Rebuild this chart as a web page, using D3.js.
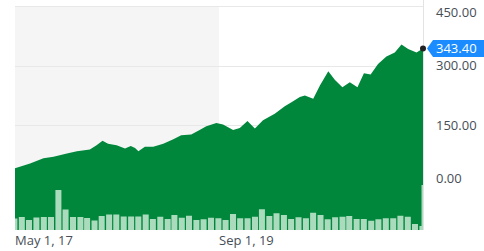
<!DOCTYPE html>
<html>
<head>
<meta charset="utf-8">
<script src="https://cdn.jsdelivr.net/npm/d3@7"></script>
<style>
  body { margin: 0; background: #fff; }
  svg { display: block; font-family: "Open Sans", sans-serif; }
</style>
</head>
<body>
<div id="chart"></div>
<script>
// price trace (date, close)
const priceDates = ["2017-05-01","2017-07-03","2017-08-28","2017-10-09","2017-12-04","2018-01-15",
  "2018-03-10","2018-04-07","2018-05-02","2018-05-25","2018-06-30","2018-08-04","2018-08-28",
  "2018-09-15","2018-09-29","2018-10-26","2018-11-30","2019-01-11","2019-02-22","2019-03-27",
  "2019-05-08","2019-06-12","2019-07-10","2019-08-21","2019-09-18","2019-10-30","2019-11-27",
  "2019-12-29","2020-01-29","2020-03-03","2020-04-21","2020-06-02","2020-06-30","2020-08-04",
  "2020-08-25","2020-09-29","2020-10-27","2020-12-01","2020-12-29","2021-01-29","2021-03-01",
  "2021-04-02","2021-04-29","2021-05-27","2021-06-27","2021-08-01","2021-09-05","2021-10-03",
  "2021-10-31","2021-12-05","2022-01-01"];
const priceValues = [42, 54, 67, 71, 79, 85, 89, 100, 111, 104, 100, 92, 98, 93, 85, 96, 96, 104,
  115, 125, 127, 138, 148, 156, 152, 138, 143, 161, 142, 163, 179, 198, 208, 221, 225, 217, 250,
  286, 264, 246, 258, 246, 281, 278, 304, 323, 333, 353, 342, 333, 343.4];

// monthly volume, May 2017 .. Jan 2022 (millions)
const volumeValues = [46, 52, 40, 50, 52, 52, 160, 82, 52, 52, 48, 38, 56, 62, 62, 54, 54, 54, 62,
  44, 53, 44, 60, 49, 57, 40, 43, 49, 47, 40, 64, 47, 47, 53, 83, 56, 67, 60, 44, 51, 47, 69, 60,
  43, 51, 53, 56, 44, 44, 37, 43, 47, 47, 57, 53, 24, 16];

const yTicks = [0, 150, 300, 450];
const xTickDates = ["2017-05-01", "2019-09-01"];
const xTickLabels = ["May 1, 17", "Sep 1, 19"];
const shadeRange = ["2017-05-01", "2019-09-01"];
const lastPrice = 343.40;

const W = 484, H = 251;
const plotLeft = 15, plotRight = 423, plotTop = 6, plotBottom = 230;
const parse = d3.timeParse("%Y-%m-%d");

const svg = d3.select("#chart").append("svg")
    .attr("width", W)
    .attr("height", H);

const x = d3.scaleTime()
    .domain([parse("2017-05-01"), parse("2022-01-01")])
    .range([plotLeft, plotRight]);

const y = d3.scaleLinear()
    .domain([0, 450])
    .range([185, plotTop]);

const yVol = d3.scaleLinear()
    .domain([0, 180])
    .range([plotBottom, 185]);

svg.append("defs").append("clipPath")
    .attr("id", "plot")
    .append("rect")
    .attr("x", plotLeft).attr("y", 0)
    .attr("width", plotRight - plotLeft).attr("height", plotBottom);

// shaded period
svg.append("rect")
    .attr("x", x(parse(shadeRange[0])))
    .attr("y", plotTop)
    .attr("width", x(parse(shadeRange[1])) - x(parse(shadeRange[0])))
    .attr("height", plotBottom - plotTop)
    .attr("fill", "#f5f5f5");

// gridlines
svg.append("g")
    .selectAll("line")
    .data(yTicks)
    .join("line")
    .attr("x1", plotLeft).attr("x2", plotRight)
    .attr("y1", d => Math.round(y(d)) + 0.5)
    .attr("y2", d => Math.round(y(d)) + 0.5)
    .attr("stroke", "#e8e8e8");

svg.append("line")
    .attr("x1", plotRight + 0.5).attr("x2", plotRight + 0.5)
    .attr("y1", 0).attr("y2", plotBottom)
    .attr("stroke", "#e3e3e3");

const price = priceDates.map((d, i) => ({ date: parse(d), value: priceValues[i] }));

const area = d3.area()
    .x(d => x(d.date))
    .y0(plotBottom)
    .y1(d => y(d.value));

const g = svg.append("g").attr("clip-path", "url(#plot)");

g.append("path")
    .datum(price)
    .attr("d", area)
    .attr("fill", "#00873c");

// volume bars
const months = d3.timeMonth.range(parse("2017-05-01"), parse("2022-02-01"));
g.selectAll(".vol")
    .data(volumeValues)
    .join("rect")
    .attr("class", "vol")
    .attr("x", (d, i) => x(months[i]) - 3.6)
    .attr("y", d => yVol(d))
    .attr("width", 6)
    .attr("height", d => plotBottom - yVol(d))
    .attr("fill", "#abdbbd");

// light edge under zero line
g.append("rect")
    .attr("x", plotRight - 1.5)
    .attr("y", y(0))
    .attr("width", 1.5)
    .attr("height", plotBottom - y(0))
    .attr("fill", "#abdbbd");

// y labels
svg.append("g")
    .selectAll("text")
    .data(yTicks)
    .join("text")
    .attr("x", 436)
    .attr("y", d => Math.max(12, Math.min(178, y(d))))
    .attr("dy", "0.35em")
    .attr("font-size", 13)
    .attr("fill", "#464e56")
    .text(d => d3.format(".2f")(d));

// x labels
svg.append("g")
    .selectAll("text")
    .data(xTickDates)
    .join("text")
    .attr("x", d => x(parse(d)))
    .attr("y", 245)
    .attr("font-size", 13)
    .attr("fill", "#464e56")
    .text((d, i) => xTickLabels[i]);

// last price marker
const yp = y(lastPrice);
svg.append("path")
    .attr("d", `M${plotRight + 4},${yp} L${plotRight + 10},${yp - 8.5} L${W},${yp - 8.5} L${W},${yp + 8.5} L${plotRight + 10},${yp + 8.5} Z`)
    .attr("fill", "#1a8cff");

svg.append("text")
    .attr("x", 436)
    .attr("y", yp)
    .attr("dy", "0.35em")
    .attr("font-size", 13)
    .attr("fill", "#fff")
    .text(d3.format(".2f")(lastPrice));

svg.append("circle")
    .attr("cx", plotRight)
    .attr("cy", yp)
    .attr("r", 3)
    .attr("fill", "#222");
</script>
</body>
</html>
